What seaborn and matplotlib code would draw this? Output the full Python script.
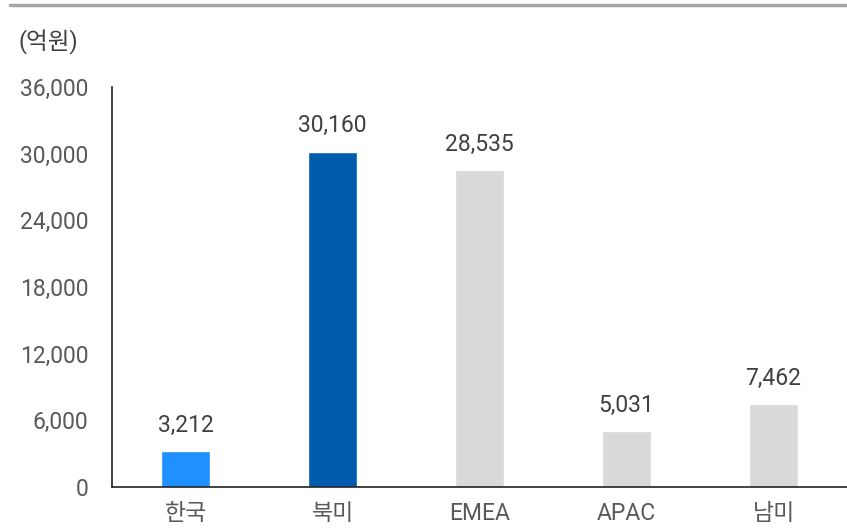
import pandas as pd
import matplotlib.pyplot as plt
import seaborn as sns

regions = ["한국", "북미", "EMEA", "APAC", "남미"]
sales = [3212, 30160, 28535, 5031, 7462]
bar_colors = ["#1E90FF", "#005BAC", "#D9D9D9", "#D9D9D9", "#D9D9D9"]
y_ticks = [0, 6000, 12000, 18000, 24000, 30000, 36000]

sns.set_style("white")
plt.rcParams['font.family'] = ['Roboto', 'Noto Sans CJK KR', 'DejaVu Sans']

df = pd.DataFrame({"region": regions, "sales": sales})

fig = plt.figure(figsize=(8.47, 5.32), dpi=100)
ax = fig.add_axes([112 / 847, 1 - 487 / 532, 735 / 847, (487 - 87) / 532])

sns.barplot(data=df, x="region", y="sales", hue="region", palette=bar_colors,
            width=0.33, legend=False, ax=ax, saturation=1)

text_color = "#595959"
for i, v in enumerate(sales):
    ax.text(i, v + 1300, f"{v:,}", ha="center", va="bottom", fontsize=16.5, color="#404040")

ax.set_ylim(0, 36000)
ax.set_xlim(-0.5, 4.5)
ax.set_yticks(y_ticks)
ax.set_yticklabels([f"{t:,}" for t in y_ticks])
ax.tick_params(axis="y", length=0, pad=17, labelsize=16.5, labelcolor=text_color)
ax.tick_params(axis="x", length=0, pad=11, labelsize=16.5, labelcolor=text_color)
ax.set_xlabel("")
ax.set_ylabel("")

for side in ["top", "right"]:
    ax.spines[side].set_visible(False)
for side in ["left", "bottom"]:
    ax.spines[side].set_color("#222222")
    ax.spines[side].set_linewidth(1.2)

fig.text(18 / 847, 1 - 42 / 532, "(억원)", fontsize=17, color="#404040", va="center")
fig.add_artist(plt.Line2D([10 / 847, 1], [1 - 4.5 / 532, 1 - 4.5 / 532],
                          color="#A6A6A6", linewidth=2.5, transform=fig.transFigure))

fig.savefig("out.png", dpi=100)
